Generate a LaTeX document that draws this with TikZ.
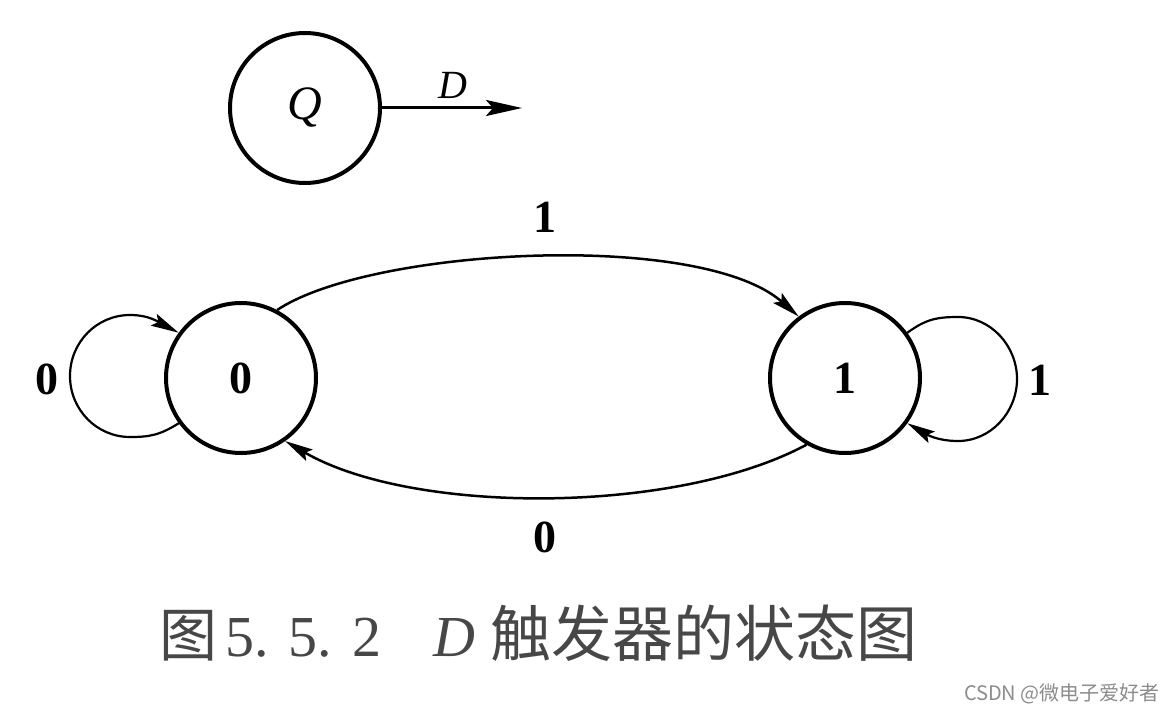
\documentclass[tikz,border=0pt]{standalone}
\usepackage{fontspec}
\setmainfont{Liberation Serif}
\newfontfamily\cjk{Noto Sans CJK SC}
\usetikzlibrary{arrows.meta}
\begin{document}
\begin{tikzpicture}[x=1pt,y=-1pt,
  state/.style={circle, draw, line width=4pt, minimum size=150pt, inner sep=0pt},
  tip/.style={-{Stealth[length=28pt,width=13pt,inset=5pt]}},
  edge/.style={line width=2.5pt, tip},
  loopedge/.style={line width=2.2pt, tip},
  lbl/.style={font=\fontsize{46}{46}\selectfont\bfseries, inner sep=0pt},
]
\useasboundingbox[fill=white] (0,0) rectangle (1174,711);

% legend
\node[state, font=\fontsize{48}{48}\selectfont\itshape] (q) at (305,108) {Q};
\coordinate (qe) at (522,108);
\draw[line width=3pt, -{Stealth[length=36pt,width=16pt,inset=7pt]}] (q) -- (qe);
\node[font=\fontsize{40}{40}\selectfont\itshape, inner sep=0pt] (dl) at (453,85) {D};

% states
\node[state, font=\fontsize{46}{46}\selectfont\bfseries] (s0) at (241,378) {0};
\node[state, font=\fontsize{46}{46}\selectfont\bfseries] (s1) at (845,378) {1};

% transitions
\draw[edge] (s0.62) .. controls (370,248) and (700,230) .. (s1.127);
\draw[edge] (s1.240) .. controls (676,515) and (412,515) .. (s0.305);
\node[lbl] (l01) at (545,217) {1};
\node[lbl] (l10) at (545,537) {0};

% self loops
\coordinate (b0) at (130,437);
\coordinate (lp0) at (70,376);
\coordinate (t0) at (130,315);
\draw[loopedge] (s0.216) .. controls (160,435) and (150,437) .. (b0)
                 .. controls (97,437) and (70,410) .. (lp0)
                 .. controls (70,342) and (97,315) .. (t0)
                 .. controls (150,315) and (160,323) .. (s0.144);
\node[lbl] (l00) at (47,379) {0};

\coordinate (t1) at (958,317);
\coordinate (lp1) at (1017,379);
\coordinate (b1) at (958,441);
\draw[loopedge] (s1.36) .. controls (925,320) and (935,317) .. (t1)
                 .. controls (991,317) and (1017,346) .. (lp1)
                 .. controls (1017,412) and (991,441) .. (b1)
                 .. controls (937,441) and (926,434) .. (s1.-36);
\node[lbl] (l11) at (1040,380) {1};

% caption
\node[anchor=base, font=\cjk\fontsize{58}{58}\selectfont, text=black!72, inner sep=0pt] (c1) at (188,656) {图};
\node[anchor=base west, font=\fontsize{58}{58}\selectfont, text=black!72, inner sep=0pt] (c2) at (225,656) {5.\kern20pt5.\kern20pt2};
\node[anchor=base west, font=\fontsize{58}{58}\selectfont\itshape, text=black!72, inner sep=0pt] (c3) at (433,656) {D};
\node[anchor=base, font=\cjk\fontsize{61}{61}\selectfont, text=black!72, inner sep=0pt] (c4) at (704,656) {触发器的状态图};

% watermark
\node[anchor=base east, font=\cjk\fontsize{20}{20}\selectfont, text=black!45, inner sep=0pt] (wm) at (1160,700) {CSDN @微电子爱好者};
\end{tikzpicture}
\end{document}
